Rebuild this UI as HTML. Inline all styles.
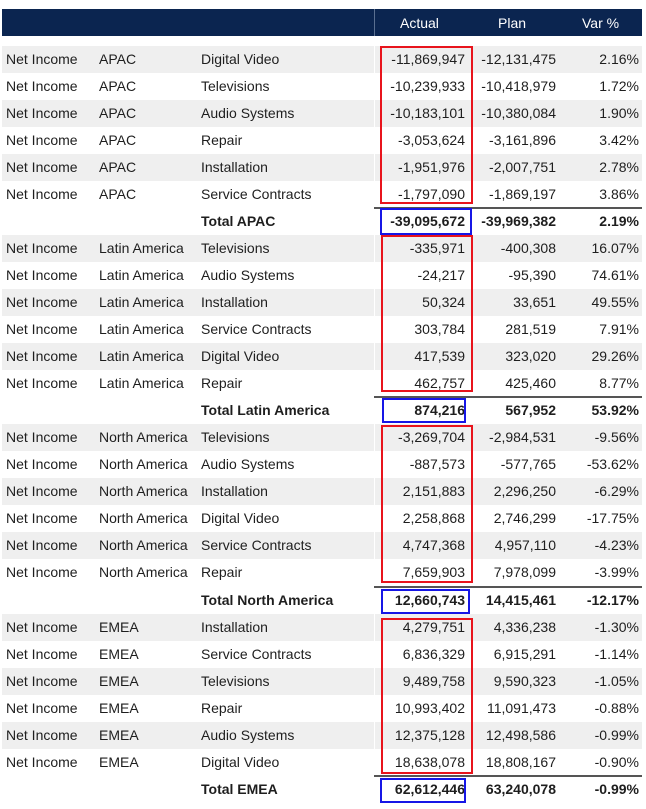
<!DOCTYPE html>
<html><head><meta charset="utf-8"><style>
body{margin:0;width:646px;height:809px;background:#fff;position:relative;overflow:hidden;font-family:"Liberation Sans",sans-serif;font-size:14px;color:#1e1e1e}
.hdr{position:absolute;left:2px;top:9px;width:640px;height:27px;background:#0b2550}
.hdr .sep{position:absolute;left:372px;top:0;width:1px;height:27px;background:#5a6f90}
.hdr span{position:absolute;top:6px;color:#fff;font-size:14px}
.row{position:absolute;left:2px;width:640px;height:27px;line-height:27px}
.g{background:#efefef}
.g::after{content:"";position:absolute;left:372px;top:0;width:1px;height:27px;background:#fff}
.row span{position:absolute;top:0;white-space:nowrap}
.c1{left:4px}.c2{left:97px}.c3{left:199px}
.a{right:177px}.p{right:86px}.v{right:3px}
.t{font-weight:bold}
.t .line{position:absolute;left:372px;top:-1px;width:268px;height:2px;background:#555}
.rb{position:absolute;border:2px solid #e8141c;box-sizing:border-box}
.bb{position:absolute;border:2px solid #1616e6;box-sizing:border-box}
</style></head><body>
<div class="hdr"><div class="sep"></div><span style="left:398px">Actual</span><span style="left:496px">Plan</span><span style="left:580px">Var %</span></div>

<div class="row g" style="top:46px"><span class="c1">Net Income</span><span class="c2">APAC</span><span class="c3">Digital Video</span><span class="a">-11,869,947</span><span class="p">-12,131,475</span><span class="v">2.16%</span></div>
<div class="row" style="top:73px"><span class="c1">Net Income</span><span class="c2">APAC</span><span class="c3">Televisions</span><span class="a">-10,239,933</span><span class="p">-10,418,979</span><span class="v">1.72%</span></div>
<div class="row g" style="top:100px"><span class="c1">Net Income</span><span class="c2">APAC</span><span class="c3">Audio Systems</span><span class="a">-10,183,101</span><span class="p">-10,380,084</span><span class="v">1.90%</span></div>
<div class="row" style="top:127px"><span class="c1">Net Income</span><span class="c2">APAC</span><span class="c3">Repair</span><span class="a">-3,053,624</span><span class="p">-3,161,896</span><span class="v">3.42%</span></div>
<div class="row g" style="top:154px"><span class="c1">Net Income</span><span class="c2">APAC</span><span class="c3">Installation</span><span class="a">-1,951,976</span><span class="p">-2,007,751</span><span class="v">2.78%</span></div>
<div class="row" style="top:181px"><span class="c1">Net Income</span><span class="c2">APAC</span><span class="c3">Service Contracts</span><span class="a">-1,797,090</span><span class="p">-1,869,197</span><span class="v">3.86%</span></div>
<div class="row t" style="top:208px"><div class="line"></div><span class="c3">Total APAC</span><span class="a">-39,095,672</span><span class="p">-39,969,382</span><span class="v">2.19%</span></div>

<div class="row g" style="top:235px"><span class="c1">Net Income</span><span class="c2">Latin America</span><span class="c3">Televisions</span><span class="a">-335,971</span><span class="p">-400,308</span><span class="v">16.07%</span></div>
<div class="row" style="top:262px"><span class="c1">Net Income</span><span class="c2">Latin America</span><span class="c3">Audio Systems</span><span class="a">-24,217</span><span class="p">-95,390</span><span class="v">74.61%</span></div>
<div class="row g" style="top:289px"><span class="c1">Net Income</span><span class="c2">Latin America</span><span class="c3">Installation</span><span class="a">50,324</span><span class="p">33,651</span><span class="v">49.55%</span></div>
<div class="row" style="top:316px"><span class="c1">Net Income</span><span class="c2">Latin America</span><span class="c3">Service Contracts</span><span class="a">303,784</span><span class="p">281,519</span><span class="v">7.91%</span></div>
<div class="row g" style="top:343px"><span class="c1">Net Income</span><span class="c2">Latin America</span><span class="c3">Digital Video</span><span class="a">417,539</span><span class="p">323,020</span><span class="v">29.26%</span></div>
<div class="row" style="top:370px"><span class="c1">Net Income</span><span class="c2">Latin America</span><span class="c3">Repair</span><span class="a">462,757</span><span class="p">425,460</span><span class="v">8.77%</span></div>
<div class="row t" style="top:397px"><div class="line"></div><span class="c3">Total Latin America</span><span class="a">874,216</span><span class="p">567,952</span><span class="v">53.92%</span></div>

<div class="row g" style="top:424px"><span class="c1">Net Income</span><span class="c2">North America</span><span class="c3">Televisions</span><span class="a">-3,269,704</span><span class="p">-2,984,531</span><span class="v">-9.56%</span></div>
<div class="row" style="top:451px"><span class="c1">Net Income</span><span class="c2">North America</span><span class="c3">Audio Systems</span><span class="a">-887,573</span><span class="p">-577,765</span><span class="v">-53.62%</span></div>
<div class="row g" style="top:478px"><span class="c1">Net Income</span><span class="c2">North America</span><span class="c3">Installation</span><span class="a">2,151,883</span><span class="p">2,296,250</span><span class="v">-6.29%</span></div>
<div class="row" style="top:505px"><span class="c1">Net Income</span><span class="c2">North America</span><span class="c3">Digital Video</span><span class="a">2,258,868</span><span class="p">2,746,299</span><span class="v">-17.75%</span></div>
<div class="row g" style="top:532px"><span class="c1">Net Income</span><span class="c2">North America</span><span class="c3">Service Contracts</span><span class="a">4,747,368</span><span class="p">4,957,110</span><span class="v">-4.23%</span></div>
<div class="row" style="top:559px"><span class="c1">Net Income</span><span class="c2">North America</span><span class="c3">Repair</span><span class="a">7,659,903</span><span class="p">7,978,099</span><span class="v">-3.99%</span></div>
<div class="row t" style="top:587px"><div class="line"></div><span class="c3">Total North America</span><span class="a">12,660,743</span><span class="p">14,415,461</span><span class="v">-12.17%</span></div>

<div class="row g" style="top:614px"><span class="c1">Net Income</span><span class="c2">EMEA</span><span class="c3">Installation</span><span class="a">4,279,751</span><span class="p">4,336,238</span><span class="v">-1.30%</span></div>
<div class="row" style="top:641px"><span class="c1">Net Income</span><span class="c2">EMEA</span><span class="c3">Service Contracts</span><span class="a">6,836,329</span><span class="p">6,915,291</span><span class="v">-1.14%</span></div>
<div class="row g" style="top:668px"><span class="c1">Net Income</span><span class="c2">EMEA</span><span class="c3">Televisions</span><span class="a">9,489,758</span><span class="p">9,590,323</span><span class="v">-1.05%</span></div>
<div class="row" style="top:695px"><span class="c1">Net Income</span><span class="c2">EMEA</span><span class="c3">Repair</span><span class="a">10,993,402</span><span class="p">11,091,473</span><span class="v">-0.88%</span></div>
<div class="row g" style="top:722px"><span class="c1">Net Income</span><span class="c2">EMEA</span><span class="c3">Audio Systems</span><span class="a">12,375,128</span><span class="p">12,498,586</span><span class="v">-0.99%</span></div>
<div class="row" style="top:749px"><span class="c1">Net Income</span><span class="c2">EMEA</span><span class="c3">Digital Video</span><span class="a">18,638,078</span><span class="p">18,808,167</span><span class="v">-0.90%</span></div>
<div class="row t" style="top:776px"><div class="line"></div><span class="c3">Total EMEA</span><span class="a">62,612,446</span><span class="p">63,240,078</span><span class="v">-0.99%</span></div>

<div class="rb" style="left:380px;top:46px;width:93px;height:158px"></div>
<div class="bb" style="left:380px;top:208px;width:92px;height:27px"></div>
<div class="rb" style="left:381px;top:235px;width:92px;height:157px"></div>
<div class="bb" style="left:382px;top:398px;width:84px;height:25px"></div>
<div class="rb" style="left:381px;top:425px;width:92px;height:158px"></div>
<div class="bb" style="left:381px;top:589px;width:89px;height:25px"></div>
<div class="rb" style="left:381px;top:618px;width:92px;height:156px"></div>
<div class="bb" style="left:380px;top:778px;width:86px;height:25px"></div>
</body></html>
